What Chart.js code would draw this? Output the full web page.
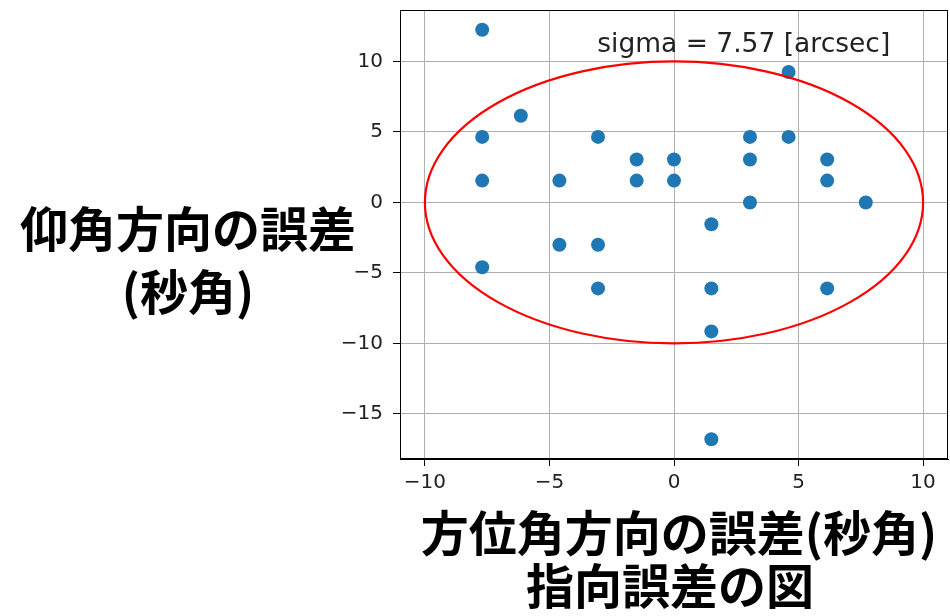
<!DOCTYPE html>
<html>
<head>
<meta charset="utf-8">
<script src="https://cdn.jsdelivr.net/npm/chart.js@4.4.1/dist/chart.umd.min.js"></script>
<style>
  html, body { margin: 0; padding: 0; background: #ffffff; }
  #wrap { width: 950px; height: 616px; position: relative; }
</style>
</head>
<body>
<div id="wrap"><canvas id="c" width="950" height="616"></canvas></div>
<script>
// Pointing errors: azimuth (x) and elevation (y), in arcseconds
const azimuthErr = [-7.7, -7.7, -7.7, -7.7, -6.15, -4.6, -4.6, -3.05, -3.05, -3.05,
                    -1.5, -1.5, 0, 0, 1.5, 1.5, 1.5, 1.5, 3.05, 3.05, 3.05,
                    4.6, 4.6, 6.15, 6.15, 6.15, 7.7];
const elevationErr = [12.25, 4.65, 1.55, -4.6, 6.15, 1.55, -3.0, 4.65, -3.0, -6.1,
                      3.05, 1.55, 3.05, 1.55, -1.55, -6.1, -9.15, -16.8, 4.65, 3.05, 0,
                      9.25, 4.65, 3.05, 1.55, -6.1, 0];

const xTicks = [-10, -5, 0, 5, 10];
const yTicks = [-15, -10, -5, 0, 5, 10];

const ellipseRadius = 10;          // tolerance ring, arcsec
const sigmaText = 'sigma = 7.57 [arcsec]';
const sigmaPos = { x: 2.8, y: 10.7 };

const yLabelLines = ['仰角方向の誤差', '(秒角)'];
const xLabel = '方位角方向の誤差(秒角)';
const figTitle = '指向誤差の図';

const points = azimuthErr.map((x, i) => ({ x: x, y: elevationErr[i] }));

const fmt = v => (v < 0 ? '\u2212' + Math.abs(v) : String(v));

const PLOT_RIGHT = 948;   // right edge of the axes box

const noScalePadding = s => {
  s.paddingTop = 0; s.paddingBottom = 0; s.paddingLeft = 0; s.paddingRight = 0;
};

// keep the axes box flush with the right edge regardless of tick-label padding
const pinRight = {
  id: 'pinRight',
  afterLayout(chart) {
    const a = chart.chartArea;
    a.right = PLOT_RIGHT;
    a.width = a.right - a.left;
    const xs = chart.scales.x;
    xs.right = PLOT_RIGHT;
    xs.width = PLOT_RIGHT - xs.left;
    xs.configure();
  }
};

const decorations = {
  id: 'decorations',
  afterDatasetsDraw(chart) {
    const { ctx, chartArea: a, scales: { x, y } } = chart;
    // red tolerance ring
    const cx = x.getPixelForValue(0), cy = y.getPixelForValue(0);
    const rx = x.getPixelForValue(ellipseRadius) - cx;
    const ry = cy - y.getPixelForValue(ellipseRadius);
    ctx.save();
    ctx.beginPath();
    ctx.rect(a.left, a.top, a.right - a.left, a.bottom - a.top);
    ctx.clip();
    ctx.beginPath();
    ctx.ellipse(cx, cy, rx, ry, 0, 0, Math.PI * 2);
    ctx.strokeStyle = '#ff0000';
    ctx.lineWidth = 2.2;
    ctx.stroke();
    ctx.restore();

    // sigma annotation
    ctx.save();
    ctx.font = '26.5px "DejaVu Sans"';
    ctx.fillStyle = '#222222';
    ctx.textAlign = 'center';
    ctx.textBaseline = 'alphabetic';
    ctx.fillText(sigmaText, x.getPixelForValue(sigmaPos.x), y.getPixelForValue(sigmaPos.y));
    ctx.restore();
  },
  afterDraw(chart) {
    const { ctx, chartArea: a } = chart;
    // frame around plot area
    ctx.save();
    ctx.strokeStyle = '#000000';
    ctx.lineWidth = 1;
    ctx.strokeRect(Math.round(a.left) + 0.5, Math.round(a.top) + 0.5,
                   Math.round(a.right - a.left) - 1, Math.round(a.bottom - a.top) - 1);

    // axis labels and caption
    ctx.font = 'bold 48px "Noto Sans CJK JP"';
    ctx.fillStyle = '#000000';
    ctx.textAlign = 'center';
    ctx.textBaseline = 'middle';
    ctx.fillText(yLabelLines[0], 188, 229);
    ctx.fillText(yLabelLines[1], 188, 292);
    ctx.fillText(xLabel, 679, 533);
    ctx.fillText(figTitle, 670, 586);
    ctx.restore();
  }
};

new Chart(document.getElementById('c'), {
  type: 'scatter',
  data: {
    datasets: [{
      data: points,
      backgroundColor: '#1f77b4',
      borderWidth: 0,
      pointRadius: 7,
      pointHoverRadius: 7
    }]
  },
  options: {
    responsive: false,
    animation: false,
    events: [],
    layout: { padding: { top: 10, right: 2, left: 0, bottom: 0 } },
    plugins: { legend: { display: false }, tooltip: { enabled: false } },
    scales: {
      x: {
        type: 'linear',
        min: -11.0,
        max: 11.0,
        afterBuildTicks: s => { s.ticks = xTicks.map(v => ({ value: v })); },
        afterFit: s => { s.height = 157; noScalePadding(s); },
        ticks: {
          callback: v => fmt(v),
          font: { family: 'DejaVu Sans', size: 20 },
          color: '#222222',
          padding: 5,
          maxRotation: 0
        },
        grid: { color: '#b0b0b0', lineWidth: 1, tickColor: '#000000', tickLength: 7, drawOnChartArea: true },
        border: { color: '#000000', width: 1 }
      },
      y: {
        type: 'linear',
        min: -18.2,
        max: 13.65,
        afterBuildTicks: s => { s.ticks = yTicks.map(v => ({ value: v })); },
        afterFit: s => { s.width = 400; noScalePadding(s); },
        ticks: {
          callback: v => fmt(v),
          font: { family: 'DejaVu Sans', size: 20 },
          color: '#222222',
          padding: 10
        },
        grid: { color: '#b0b0b0', lineWidth: 1, tickColor: '#000000', tickLength: 7 },
        border: { color: '#000000', width: 1 }
      }
    }
  },
  plugins: [pinRight, decorations]
});
</script>
</body>
</html>
